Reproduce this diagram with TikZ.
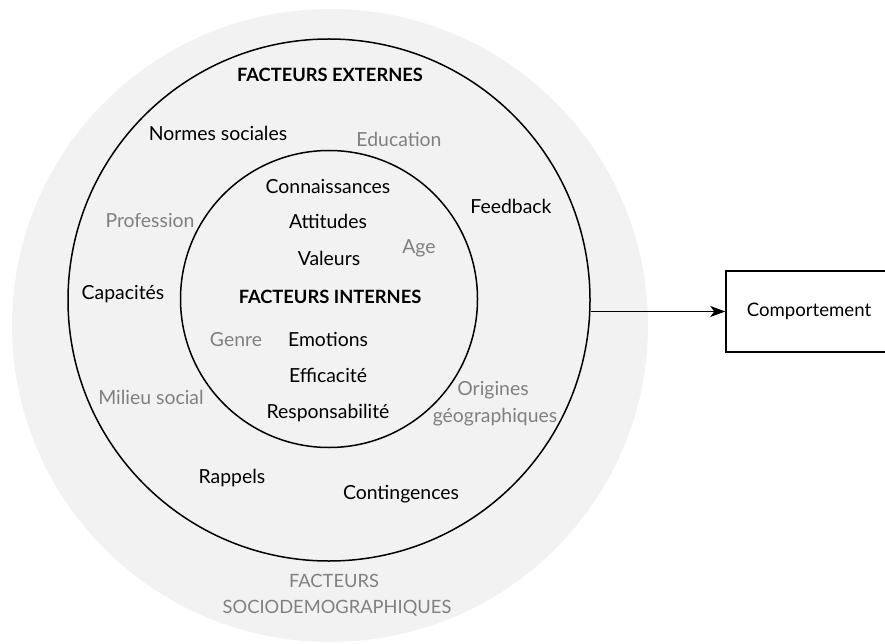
\documentclass[tikz,border=0pt]{standalone}
\usepackage{fontspec}
\setmainfont{Lato}
\usetikzlibrary{shapes.geometric,arrows.meta}
\definecolor{bgsoc}{HTML}{F2F2F2}
\definecolor{greytxt}{HTML}{808080}
\tikzset{
  lbl/.style={inner sep=0pt, anchor=base, font=\fontsize{19.4}{27}\selectfont, text=black},
  glbl/.style={lbl, text=greytxt},
  caps/.style={font=\fontsize{18.3}{27}\selectfont},
  blbl/.style={lbl, font=\fontsize{18.3}{27}\selectfont\bfseries},
  ring/.style={circle, draw=black, line width=1.5pt, inner sep=0pt},
}
\begin{document}
\begin{tikzpicture}[x=1pt,y=-1pt]
\useasboundingbox (0,0) rectangle (885,644);
\clip (0,0) rectangle (885,644);
% sociodemographic background
\node[ellipse, fill=bgsoc, minimum width=636pt, minimum height=633pt, inner sep=0pt] (soc) at (330,325.5) {};
% rings
\node[ring, minimum size=522pt] (ext) at (329,300) {};
\node[ring, minimum size=297pt] (int) at (329,299) {};
% behaviour box
\node[draw=black, line width=1.5pt, minimum width=166pt, minimum height=81pt, inner sep=0pt,
      font=\fontsize{18.6}{27}\selectfont] (comp) at (809,311.5) {Comportement};
\draw[line width=1.6pt, -{Stealth[length=15pt,width=11pt,inset=4pt]}] (ext.east |- comp.west) -- (comp.west);
% labels
\node[blbl] (fe) at (330,82) {FACTEURS EXTERNES};
\node[lbl] (ns) at (218,141) {Normes sociales};
\node[glbl] (edu) at (399,147) {Education};
\node[lbl] (con) at (328,193.5) {Connaissances};
\node[lbl] (att) at (328,229) {Attitudes};
\node[lbl] (val) at (329,265) {Valeurs};
\node[glbl] (age) at (419,254) {Age};
\node[lbl] (fb) at (511,214) {Feedback};
\node[glbl] (pro) at (150,227) {Profession};
\node[lbl] (cap) at (123,299) {Capacités};
\node[blbl] (fi) at (330,303) {FACTEURS INTERNES};
\node[glbl] (gen) at (236,346) {Genre};
\node[lbl] (emo) at (328,346) {Emotions};
\node[lbl] (eff) at (328,382) {Efficacité};
\node[lbl] (res) at (328,418) {Responsabilité};
\node[glbl] (mil) at (151,404) {Milieu social};
\node[glbl] (ori1) at (493,395) {Origines};
\node[glbl] (ori2) at (495,422) {géographiques};
\node[lbl] (rap) at (232,483) {Rappels};
\node[lbl] (cont) at (401,499) {Contingences};
\node[glbl, caps] (fs1) at (334,587) {FACTEURS};
\node[glbl, caps] (fs2) at (337,613) {SOCIODEMOGRAPHIQUES};
\end{tikzpicture}
\end{document}
